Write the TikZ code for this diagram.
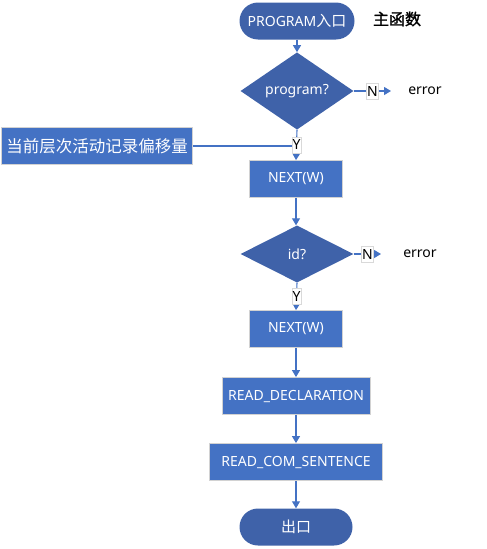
\documentclass[tikz,border=0pt]{standalone}
\usepackage{fontspec}
\setmainfont{Noto Sans}
\newfontfamily\cjk{Noto Sans CJK SC}
\newfontfamily\cjkbold[FakeBold=1.5]{Noto Sans CJK SC}
\usetikzlibrary{arrows.meta,shapes.geometric}
\definecolor{boxblue}{HTML}{4472C4}
\definecolor{darkblue}{HTML}{3F62A9}
\begin{document}
\begin{tikzpicture}[x=1pt,y=-1pt,
  txt/.style={font=\fontsize{14}{17}\selectfont},
  procbox/.style={txt, rectangle, fill=boxblue, draw=gray!35, line width=0.8pt, text=white, minimum height=37pt, inner sep=0pt},
  term/.style={txt, rectangle, rounded corners=18.5pt, fill=darkblue, text=white, minimum height=37pt, inner sep=0pt},
  decision/.style={txt, diamond, fill=darkblue, text=white, minimum width=113pt, minimum height=57pt, inner sep=0pt},
  line/.style={draw=boxblue, line width=1.1pt},
  conn/.style={line, -{Triangle[length=7pt,width=8pt]}},
  yn/.style={font=\fontsize{14}{16}\selectfont, fill=white, draw=gray!30, line width=0.5pt, inner xsep=0.6pt, inner ysep=3pt, text=black},
  plain/.style={txt, text=black}]
\useasboundingbox (0,0) rectangle (487,549);

\node[term, minimum width=115pt] (start) at (297,21) {PROGRAM{\cjk\fontsize{15}{17}\selectfont 入口}};
\node[font=\fontsize{16}{18}\selectfont] (title) at (397,19) {\cjkbold 主函数};
\node[decision] (d1) at (297,91) {program?};
\node[plain] (err1) at (425,91) {error};
\node[procbox, minimum width=191pt, font=\fontsize{16.5}{19}\selectfont] (off) at (97,146) {\cjk 当前层次活动记录偏移量};
\node[procbox, minimum width=93pt] (n1) at (296,179) {NEXT(W)};
\node[decision] (d2) at (297,254) {id?};
\node[plain] (err2) at (420,254) {error};
\node[procbox, minimum width=93pt] (n2) at (296,329) {NEXT(W)};
\node[procbox, minimum width=148pt] (rd) at (296,396) {READ\_DECLARATION};
\node[procbox, minimum width=173pt] (rc) at (296,462) {READ\_COM\_SENTENCE};
\node[term, minimum width=113pt, font=\fontsize{15}{18}\selectfont] (stop) at (296,527) {\cjk 出口};

\coordinate (e1) at (391,91);
\coordinate (e2) at (381,254);

\draw[conn] (start.south) -- (start.south |- d1.north);
\draw[conn] (d1.east) -- (e1) node[yn, pos=0.5] (nl1) {N};
\draw[line] (off.east) -- (off.east -| n1.north);
\draw[conn] (d1.south) -- (n1.north) node[yn, pos=0.5] (yl1) {Y};
\draw[conn] (n1.south) -- (n1.south |- d2.north);
\draw[conn] (d2.east) -- (e2) node[yn, pos=0.5] (nl2) {N};
\draw[conn] (d2.south) -- (n2.north) node[yn, pos=0.5] (yl2) {Y};
\draw[conn] (n2.south) -- (rd.north);
\draw[conn] (rd.south) -- (rc.north);
\draw[conn] (rc.south) -- (stop.north);
\end{tikzpicture}
\end{document}
